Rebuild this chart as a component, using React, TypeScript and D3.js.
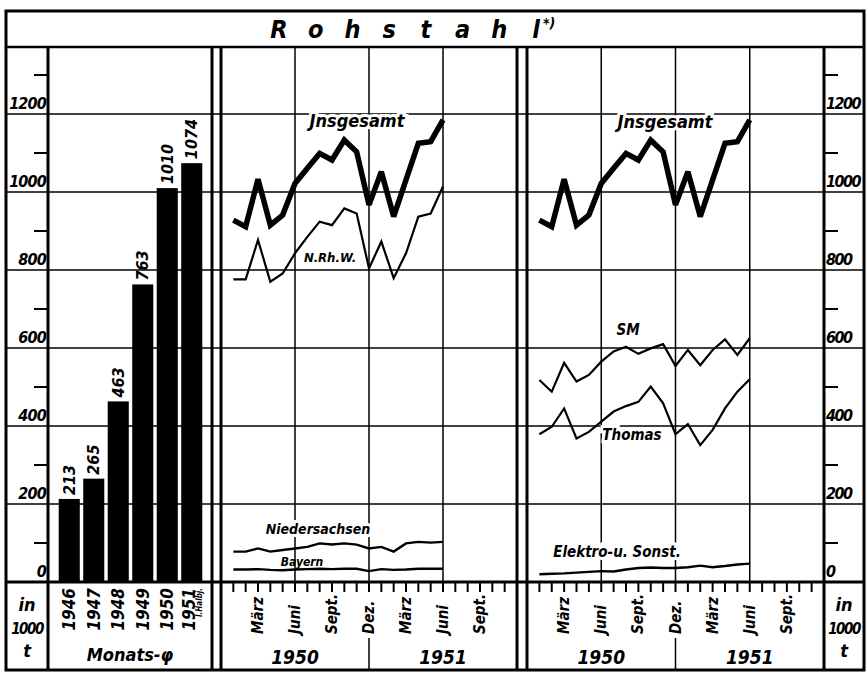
import React from "react";
import * as d3 from "d3";

const barYears = ["1946", "1947", "1948", "1949", "1950", "1951"];
const barValues = [213, 265, 463, 763, 1010, 1074];

const monthIdx = [1, 2, 3, 4, 5, 6, 7, 8, 9, 10, 11, 12, 13, 14, 15, 16, 17, 18];
const insgesamt = [928, 911, 1033, 915, 941, 1022, 1061, 1099, 1082, 1133, 1103, 967, 1052, 937, 1031, 1125, 1129, 1185];
const nrhw = [776, 776, 877, 770, 791, 843, 885, 924, 915, 958, 945, 804, 873, 779, 843, 937, 945, 1014];
const niedersachsen = [78, 78, 86, 78, 82, 86, 90, 99, 96, 99, 96, 86, 90, 78, 99, 103, 101, 103];
const bayern = [32, 32, 33, 31, 30, 32, 33, 34, 33, 34, 34, 28, 33, 31, 32, 34, 34, 34];
const sm = [518, 488, 562, 514, 531, 565, 591, 603, 585, 599, 610, 554, 595, 556, 595, 622, 582, 625];
const thomas = [379, 398, 445, 368, 385, 411, 437, 451, 462, 501, 458, 379, 405, 351, 390, 445, 488, 520];
const elektro = [20, 21, 22, 24, 26, 28, 27, 32, 36, 37, 36, 36, 38, 42, 38, 41, 45, 47];

const yLabels = [0, 200, 400, 600, 800, 1000, 1200];
const yMinor = [100, 300, 500, 700, 900, 1100, 1300];
const monthLabels = [
  { m: 3, t: "März" },
  { m: 6, t: "Juni" },
  { m: 9, t: "Sept." },
  { m: 12, t: "Dez." },
  { m: 15, t: "März" },
  { m: 18, t: "Juni" },
  { m: 21, t: "Sept." },
];
const yearLabels = [
  { from: 0, to: 12, t: "1950" },
  { from: 12, to: 24, t: "1951" },
];
const titleText = "Rohstahl";
const titleNote = "*)";

const FONT = "'DejaVu Sans Condensed','DejaVu Sans',sans-serif";
const W = 868;
const H = 675;
const TOP = 47;
const BASE = 582;
const BOTTOM = 670;
const LEFT = 6;
const RIGHT = 864;

const y = d3.scaleLinear().domain([0, 1200]).range([BASE, 114]);
const xBar = d3.scaleBand().domain(barYears).range([57, 204]).paddingInner(0.14).paddingOuter(0.07);
const xm1 = d3.scaleLinear().domain([0, 24]).range([221, 517]);
const xm2 = d3.scaleLinear().domain([0, 24]).range([527, 824]);

const txt = (extra: any = {}) => ({
  fontFamily: FONT,
  fontWeight: "bold" as const,
  fontStyle: "italic" as const,
  fontStretch: "condensed",
  fill: "#000",
  ...extra,
});

function lineOf(xs: d3.ScaleLinear<number, number>, vals: number[]) {
  return d3
    .line<number>()
    .x((_, i) => xs(monthIdx[i]))
    .y((v) => y(v))(vals) as string;
}

function MonthAxis({ xs }: { xs: d3.ScaleLinear<number, number> }) {
  const ticks = d3.range(0, 25);
  return (
    <g>
      {ticks.map((t) => (
        <line key={t} x1={xs(t)} x2={xs(t)} y1={BASE} y2={BASE + 10} stroke="#000" strokeWidth={2} />
      ))}
      {monthLabels.map((l, i) => (
        <text
          key={i}
          transform={`translate(${xs(l.m)},634) rotate(-90)`}
          dominantBaseline="central"
          textAnchor="start"
          {...txt({ fontSize: 15 })}
        >
          {l.t}
        </text>
      ))}
      {yearLabels.map((l, i) => (
        <text key={i} x={xs((l.from + l.to) / 2)} y={664} textAnchor="middle" {...txt({ fontSize: 19 })}>
          {l.t}
        </text>
      ))}
      <line x1={xs(12)} x2={xs(12)} y1={638} y2={BOTTOM} stroke="#000" strokeWidth={1.5} />
    </g>
  );
}

function LineLabel({ x, yy, t, size = 15 }: { x: number; yy: number; t: string; size?: number }) {
  return (
    <text
      x={x}
      y={yy}
      textAnchor="middle"
      stroke="#fff"
      strokeWidth={6}
      paintOrder="stroke"
      {...txt({ fontSize: size })}
    >
      {t}
    </text>
  );
}

export default function App() {
  const gridVals = yLabels.filter((v) => v > 0);
  const titleX = d3.scaleLinear().domain([0, titleText.length - 1]).range([279, 536]);
  return (
    <svg
      width={W}
      height={H}
      style={{ position: "absolute", left: 0, top: 0, background: "#fff" }}
      viewBox={`0 0 ${W} ${H}`}
    >
      <rect x={0} y={0} width={W} height={H} fill="#fff" />
      {/* horizontal gridlines */}
      {gridVals.map((v) => (
        <line key={v} x1={LEFT} x2={RIGHT} y1={y(v)} y2={y(v)} stroke="#000" strokeWidth={1.5} />
      ))}
      {/* vertical gridlines in line panels */}
      {[xm1, xm2].map((xs, k) =>
        [6, 12, 18].map((m) => (
          <line key={`${k}-${m}`} x1={xs(m)} x2={xs(m)} y1={TOP} y2={BASE} stroke="#000" strokeWidth={1.5} />
        ))
      )}

      {/* bars */}
      {barYears.map((yr, i) => (
        <rect
          key={yr}
          x={xBar(yr)}
          y={y(barValues[i])}
          width={xBar.bandwidth()}
          height={BASE - y(barValues[i])}
          fill="#000"
        />
      ))}
      {barYears.map((yr, i) => (
        <text
          key={yr}
          transform={`translate(${(xBar(yr) as number) + xBar.bandwidth() / 2},${y(barValues[i]) - 4}) rotate(-90)`}
          dominantBaseline="central"
          textAnchor="start"
          {...txt({ fontSize: 16 })}
        >
          {barValues[i]}
        </text>
      ))}
      {barYears.map((yr) => (
        <text
          key={yr}
          transform={`translate(${(xBar(yr) as number) + xBar.bandwidth() / 2 - (yr === "1951" ? 3 : 0)},588) rotate(-90)`}
          dominantBaseline="central"
          textAnchor="end"
          {...txt({ fontSize: 17 })}
        >
          {yr}
        </text>
      ))}
      <text
        transform={`translate(${(xBar("1951") as number) + xBar.bandwidth() / 2 + 8},588) rotate(-90)`}
        dominantBaseline="central"
        textAnchor="end"
        {...txt({ fontSize: 8 })}
      >
        I.Halbj.
      </text>
      <text x={130} y={661} textAnchor="middle" {...txt({ fontSize: 18 })}>
        Monats-φ
      </text>

      {/* left axis */}
      {yLabels.map((v) => (
        <text key={v} x={46} y={y(v) - 5} textAnchor="end" {...txt({ fontSize: 16, letterSpacing: -0.8 })}>
          {v}
        </text>
      ))}
      {yMinor.map((v) => (
        <line key={v} x1={34} x2={48} y1={y(v)} y2={y(v)} stroke="#000" strokeWidth={2} />
      ))}
      {/* right axis */}
      {yLabels.map((v) => (
        <text key={v} x={826} y={y(v) - 5} textAnchor="start" {...txt({ fontSize: 16, letterSpacing: -1.5 })}>
          {v}
        </text>
      ))}
      {yMinor.map((v) => (
        <line key={v} x1={824} x2={838} y1={y(v)} y2={y(v)} stroke="#000" strokeWidth={2} />
      ))}

      {/* unit labels */}
      {[27, 844].map((cx) => (
        <g key={cx}>
          <text x={cx} y={611} textAnchor="middle" {...txt({ fontSize: 18 })}>
            in
          </text>
          <text x={cx} y={634} textAnchor="middle" {...txt({ fontSize: 15, letterSpacing: -1.5 })}>
            1000
          </text>
          <text x={cx} y={657} textAnchor="middle" {...txt({ fontSize: 18 })}>
            t
          </text>
        </g>
      ))}

      {/* month axes */}
      <MonthAxis xs={xm1} />
      <MonthAxis xs={xm2} />

      {/* middle panel lines */}
      <path d={lineOf(xm1, nrhw)} fill="none" stroke="#000" strokeWidth={2.2} strokeLinejoin="miter" />
      <path d={lineOf(xm1, niedersachsen)} fill="none" stroke="#000" strokeWidth={2.4} />
      <path d={lineOf(xm1, bayern)} fill="none" stroke="#000" strokeWidth={2.4} />
      <path d={lineOf(xm1, insgesamt)} fill="none" stroke="#000" strokeWidth={5.5} strokeLinejoin="miter" strokeMiterlimit={3} />
      <LineLabel x={357} yy={127} t="Jnsgesamt" size={18} />
      <LineLabel x={330} yy={262} t="N.Rh.W." size={13} />
      <LineLabel x={318} yy={534} t="Niedersachsen" size={14} />
      <text x={302} y={566} textAnchor="middle" {...txt({ fontSize: 12 })}>
        Bayern
      </text>

      {/* right panel lines */}
      <path d={lineOf(xm2, sm)} fill="none" stroke="#000" strokeWidth={2.2} />
      <path d={lineOf(xm2, thomas)} fill="none" stroke="#000" strokeWidth={2.2} />
      <path d={lineOf(xm2, elektro)} fill="none" stroke="#000" strokeWidth={2.4} />
      <path d={lineOf(xm2, insgesamt)} fill="none" stroke="#000" strokeWidth={5.5} strokeLinejoin="miter" strokeMiterlimit={3} />
      <LineLabel x={665} yy={128} t="Jnsgesamt" size={18} />
      <LineLabel x={628} yy={335} t="SM" size={15} />
      <LineLabel x={632} yy={440} t="Thomas" size={15} />
      <LineLabel x={617} yy={557} t="Elektro-u. Sonst." size={15} />

      {/* structure lines */}
      <rect x={LEFT} y={11} width={RIGHT - LEFT} height={BOTTOM - 11} fill="none" stroke="#000" strokeWidth={3} />
      <line x1={LEFT} x2={RIGHT} y1={TOP} y2={TOP} stroke="#000" strokeWidth={2.5} />
      <line x1={LEFT} x2={RIGHT} y1={BASE} y2={BASE} stroke="#000" strokeWidth={3} />
      {[48, 212, 221, 517, 527, 824].map((xx) => (
        <line key={xx} x1={xx} x2={xx} y1={TOP} y2={BOTTOM} stroke="#000" strokeWidth={3} />
      ))}

      {/* title */}
      {titleText.split("").map((ch, i) => (
        <text key={i} x={titleX(i)} y={38} textAnchor="middle" {...txt({ fontSize: 25 })}>
          {ch}
        </text>
      ))}
      <text x={titleX(titleText.length - 1) + 7} y={28} textAnchor="start" {...txt({ fontSize: 14 })}>
        {titleNote}
      </text>
    </svg>
  );
}
